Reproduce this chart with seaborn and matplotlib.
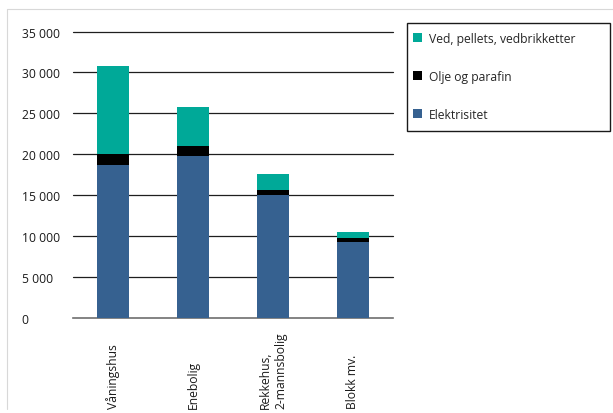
import pandas as pd
import matplotlib.pyplot as plt
import seaborn as sns
from matplotlib.patches import Rectangle, Patch
from matplotlib.lines import Line2D

# Data
categories = ['Våningshus', 'Enebolig', 'Rekkehus,\n2-mannsbolig', 'Blokk mv.']
elektrisitet = [18700, 19800, 15050, 9300]
olje = [1300, 1200, 580, 470]
ved = [10800, 4750, 1950, 730]

ticks = [0, 5000, 10000, 15000, 20000, 25000, 30000, 35000]
tick_labels = ['0', '5 000', '10 000', '15 000', '20 000', '25 000', '30 000', '35 000']

series = ['Ved, pellets, vedbrikketter', 'Olje og parafin', 'Elektrisitet']
colors = ['#00a998', '#000000', '#366190']

df = pd.DataFrame({'kategori': categories, 'el': elektrisitet, 'olje': olje, 'ved': ved})
df['el_olje'] = df['el'] + df['olje']
df['total'] = df['el_olje'] + df['ved']

sns.set_style('white')
plt.rcParams['font.family'] = ['Open Sans', 'DejaVu Sans']
plt.rcParams['font.size'] = 8.7

fig = plt.figure(figsize=(6.13, 4.14), dpi=100)
ax = fig.add_axes([73 / 613, 1 - 319 / 414, 320 / 613, (319 - 32.5) / 414])

# stacked bars: draw cumulative totals from back to front
for col, c in zip(['total', 'el_olje', 'el'], colors):
    sns.barplot(data=df, x='kategori', y=col, color=c, width=0.39,
                saturation=1, linewidth=0, ax=ax, zorder=3)

ax.set_ylim(0, 35000)
ax.set_xlim(-0.5, 3.5)
ax.set_yticks(ticks)
ax.set_yticklabels(tick_labels, ha='left')
ax.tick_params(axis='y', length=0, pad=37, colors='#1a1a1a')
ax.set_xlabel('')
ax.set_ylabel('')

for t in ticks[1:]:
    ax.axhline(t, color='#1e1e1e', lw=0.9, zorder=1, clip_on=False)
for s in ['top', 'right', 'left']:
    ax.spines[s].set_visible(False)
ax.spines['bottom'].set_color('#6e6e6e')
ax.spines['bottom'].set_linewidth(1.2)

# x labels rotated, bottom aligned
for lab in ax.get_xticklabels():
    lab.set_rotation(90)
    lab.set_va('bottom')
    lab.set_ha('center')
    lab.set_multialignment('left')
    lab.set_color('#1a1a1a')
ax.tick_params(axis='x', length=0, pad=65)

# legend with custom frame
handles = [Patch(facecolor=c, edgecolor='none') for c in colors]
fig.legend(handles, series, loc='upper left', bbox_to_anchor=(413 / 613, 1 - 33 / 414),
           frameon=False, handlelength=0.75, handleheight=0.75, handletextpad=0.6,
           labelspacing=2.05, borderaxespad=0, borderpad=0, fontsize=8.7)
fig.add_artist(Rectangle((407 / 613, 1 - 132 / 414), 203 / 613, 108 / 414,
                         transform=fig.transFigure, fill=False, edgecolor='#1a1a1a', lw=1.0))

# light frame lines at the top and left of the figure
fig.add_artist(Line2D([7 / 613, 1], [1 - 10 / 414, 1 - 10 / 414], transform=fig.transFigure,
                      color='#d8d8d8', lw=0.8))
fig.add_artist(Line2D([7 / 613, 7 / 613], [1 - 10 / 414, 1 - 410 / 414], transform=fig.transFigure,
                      color='#d8d8d8', lw=0.8))

plt.savefig('out.png', dpi=100)
